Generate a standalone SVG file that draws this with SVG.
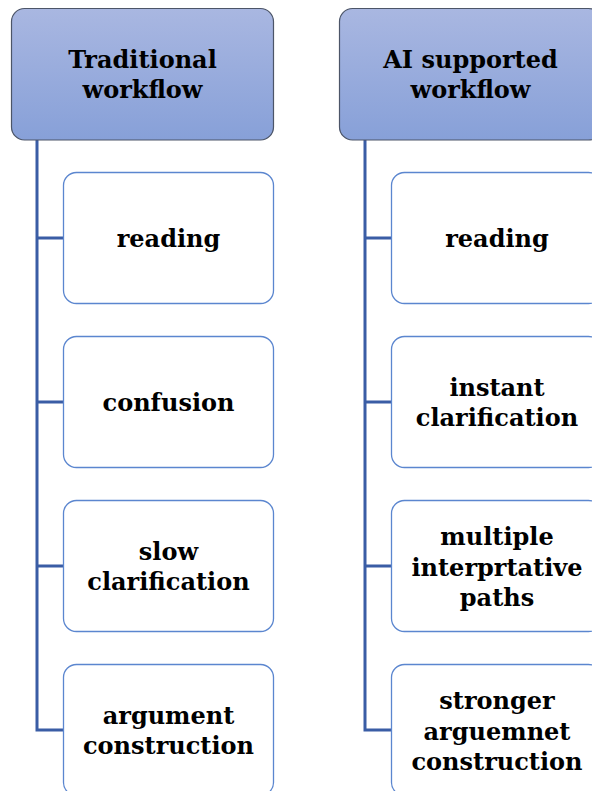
<svg xmlns="http://www.w3.org/2000/svg" width="592" height="791" viewBox="0 0 592 791">
<defs>
<linearGradient id="hg" x1="0" y1="0" x2="0" y2="1">
<stop offset="0" stop-color="#A9B7E1"/>
<stop offset="1" stop-color="#87A0D8"/>
</linearGradient>
<style>
.hdr{fill:url(#hg);stroke:#4C5568;stroke-width:1.2}
.box{fill:#FFFFFF;stroke:#5B86CF;stroke-width:1.3}
.t{font-family:"DejaVu Serif",serif;font-weight:bold;font-size:24px;fill:#000;text-anchor:middle}
.c{fill:none;stroke:#3A5DA5;stroke-width:3;stroke-linejoin:miter}
</style>
</defs>
<rect width="592" height="791" fill="#FFFFFF"/>
<g id="connectors">
<path class="c" d="M37,140 V730 H64 M37,238 H64 M37,402 H64 M37,566 H64"/>
<path class="c" d="M365,140 V730 H392 M365,238 H392 M365,402 H392 M365,566 H392"/>
</g>
<g id="h1"><rect class="hdr" x="11.5" y="8.5" width="262" height="131.5" rx="13"/>
<text class="t" x="142.5" y="68">Traditional</text><text class="t" x="142.5" y="98">workflow</text></g>
<g id="h2"><rect class="hdr" x="339.5" y="8.5" width="262" height="131.5" rx="13"/>
<text class="t" x="470.5" y="68">AI supported</text><text class="t" x="470.5" y="98">workflow</text></g>
<g id="l1"><rect class="box" x="63.5" y="172.5" width="210" height="131" rx="13"/>
<text class="t" x="168.5" y="247">reading</text></g>
<g id="l2"><rect class="box" x="63.5" y="336.5" width="210" height="131" rx="13"/>
<text class="t" x="168.5" y="411">confusion</text></g>
<g id="l3"><rect class="box" x="63.5" y="500.5" width="210" height="131" rx="13"/>
<text class="t" x="168.5" y="560">slow</text><text class="t" x="168.5" y="590">clarification</text></g>
<g id="l4"><rect class="box" x="63.5" y="664.5" width="210" height="131" rx="13"/>
<text class="t" x="168.5" y="724">argument</text><text class="t" x="168.5" y="754">construction</text></g>
<g id="r1"><rect class="box" x="391.5" y="172.5" width="210" height="131" rx="13"/>
<text class="t" x="497" y="247">reading</text></g>
<g id="r2"><rect class="box" x="391.5" y="336.5" width="210" height="131" rx="13"/>
<text class="t" x="497" y="396">instant</text><text class="t" x="497" y="426">clarification</text></g>
<g id="r3"><rect class="box" x="391.5" y="500.5" width="210" height="131" rx="13"/>
<text class="t" x="497" y="545">multiple</text><text class="t" x="497" y="576">interprtative</text><text class="t" x="497" y="606">paths</text></g>
<g id="r4"><rect class="box" x="391.5" y="664.5" width="210" height="131" rx="13"/>
<text class="t" x="497" y="709">stronger</text><text class="t" x="497" y="740">arguemnet</text><text class="t" x="497" y="770">construction</text></g>
</svg>
